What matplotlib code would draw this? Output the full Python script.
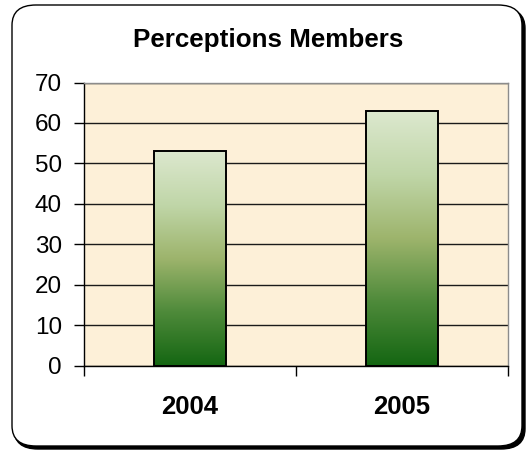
import numpy as np
import matplotlib
matplotlib.use("Agg")
import matplotlib.pyplot as plt
from matplotlib.patches import FancyBboxPatch, Rectangle
from matplotlib.colors import LinearSegmentedColormap

categories = ["2004", "2005"]
values = [53, 63]
yticks = [0, 10, 20, 30, 40, 50, 60, 70]
title = "Perceptions Members"

plt.rcParams['font.family'] = ['Liberation Sans', 'DejaVu Sans']

fig = plt.figure(figsize=(5.32, 4.5), dpi=100)
fig.patch.set_facecolor("white")

# rounded chart frame with a drop shadow
shadow = FancyBboxPatch((14 / 532, 1 - 449 / 450), 511 / 532, 441 / 450,
                        boxstyle="round,pad=0,rounding_size=0.045",
                        transform=fig.transFigure, facecolor="black",
                        edgecolor="black", linewidth=1, zorder=0)
frame = FancyBboxPatch((12 / 532, 1 - 446 / 450), 510 / 532, 441 / 450,
                       boxstyle="round,pad=0,rounding_size=0.045",
                       transform=fig.transFigure, facecolor="white",
                       edgecolor="black", linewidth=1.0, zorder=1)
fig.patches.extend([shadow, frame])

ax = fig.add_axes([84 / 532, 1 - 365.7 / 450, 424 / 532, 283.2 / 450])
ax.set_zorder(2)
ax.set_facecolor("#FDF0D8")

x = np.arange(len(categories))
width = 0.335

ax.set_yticks(yticks)
ax.set_yticklabels([str(t) for t in yticks], fontsize=17.5)
ax.yaxis.grid(True, color="#1a1a1a", linewidth=1.0)
ax.set_axisbelow(True)

cmap = LinearSegmentedColormap.from_list(
    "bar", [(0.0, "#146612"), (0.25, "#4E8A3A"), (0.5, "#9DB46C"),
            (0.75, "#C0D6A8"), (1.0, "#DCE8CE")])
grad = np.linspace(0, 1, 256).reshape(-1, 1)

bars = ax.bar(x, values, width=width, facecolor="none",
              edgecolor="black", linewidth=1.4, zorder=4)
for b in bars:
    x0, y0 = b.get_x(), b.get_y()
    w, h = b.get_width(), b.get_height()
    im = ax.imshow(grad, cmap=cmap, aspect="auto", origin="lower",
                   extent=(x0, x0 + w, y0, y0 + h), zorder=3,
                   interpolation="bicubic")
    clip = Rectangle((x0, y0), w, h, transform=ax.transData)
    im.set_clip_path(clip)
ax.set_xlim(-0.5, len(categories) - 0.5)
ax.set_ylim(0, 70)

# category labels sit between the boundary tick marks
ax.set_xticks(np.arange(len(categories) + 1) - 0.5)
ax.set_xticklabels([])
ax.set_xticks(x, minor=True)
ax.set_xticklabels(categories, minor=True, fontsize=18.5, fontweight="bold")
ax.tick_params(axis="x", which="major", length=7, width=1, color="black",
               direction="out")
ax.tick_params(axis="x", which="minor", length=0, pad=21)
ax.tick_params(axis="y", length=7, width=1, color="black", pad=9)

for s in ["left", "bottom"]:
    ax.spines[s].set_color("black")
    ax.spines[s].set_linewidth(1)
for s in ["top", "right"]:
    ax.spines[s].set_color("#8c8c8c")
    ax.spines[s].set_linewidth(1)

fig.text(268 / 532, 1 - 40 / 450, title, ha="center", va="center",
         fontsize=18.75, fontweight="bold")

fig.savefig("out.png", dpi=100)
